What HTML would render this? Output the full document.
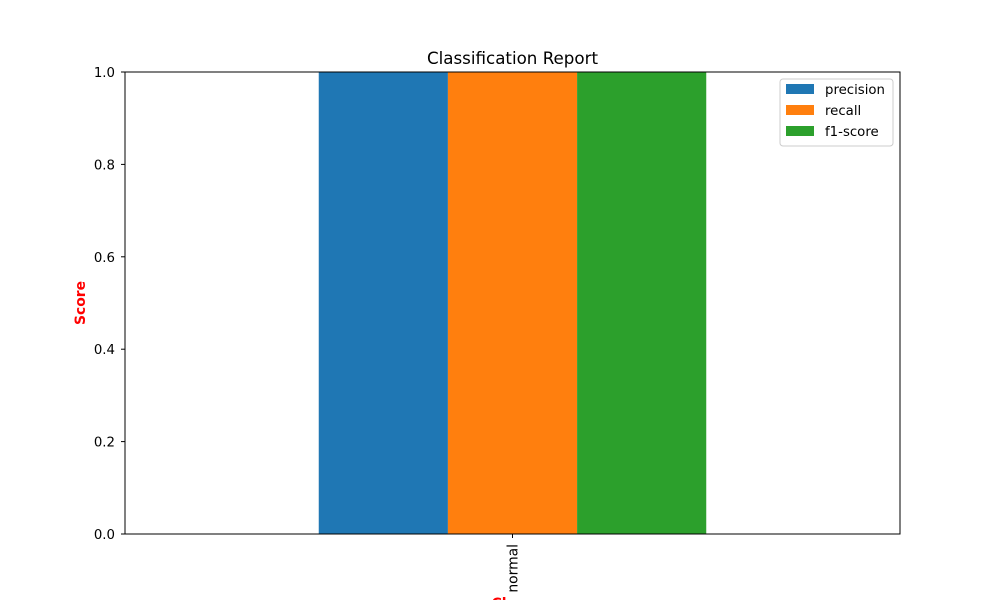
<!DOCTYPE html>
<html><head><meta charset="utf-8"><style>
body{margin:0;background:#fff;}
text{font-family:"DejaVu Sans","Liberation Sans",sans-serif;}
</style></head><body>
<svg width="1000" height="600" xmlns="http://www.w3.org/2000/svg">
<g id="plot"></g>
</svg>
<script>
const categories=["normal"];
const seriesNames=["precision","recall","f1-score"];
const precision=[1.0];
const recall=[1.0];
const f1=[1.0];
const yTicks=[0.0,0.2,0.4,0.6,0.8,1.0];
const colors=["#1f77b4","#ff7f0e","#2ca02c"];
const L=125,R=900,T=72,B=534;
const y=v=>B-(v/1.0)*(B-T);
const x=i=>L+(i+0.5)*(R-L)/categories.length;
const ns="http://www.w3.org/2000/svg";
const g=document.getElementById('plot');
function mk(tag,attrs,txt){const e=document.createElementNS(ns,tag);for(const k in attrs)e.setAttribute(k,attrs[k]);if(txt!==undefined)e.textContent=txt;g.appendChild(e);return e;}
const series=[precision,recall,f1];
const groupW=(R-L)/categories.length*0.5;
const bw=groupW/series.length;
categories.forEach((c,i)=>{
  series.forEach((s,j)=>{
    const x0=x(i)-groupW/2+j*bw;
    const r=mk('rect',{x:x0,y:y(s[i]),width:bw,height:B-y(s[i]),fill:colors[j]});
    
    
  });
  const t=mk('line',{x1:x(i),x2:x(i),y1:B,y2:B+4,stroke:'#000'});
  
  
  const tl=mk('text',{x:x(i)+5,y:B+10,'font-size':13.9,'text-anchor':'end',transform:`rotate(-90 ${x(i)+5} ${B+10})`},c);
  
  
});
yTicks.forEach(v=>{
  const t=mk('line',{x1:L-4,x2:L,y1:y(v),y2:y(v),stroke:'#000'});
  
  
  const tl=mk('text',{x:L-10,y:y(v)+5,'font-size':13.3,'text-anchor':'end'},v.toFixed(1));
  
  
});
const frame=mk('rect',{x:L,y:T,width:R-L,height:B-T,fill:'none',stroke:'#000','stroke-width':1});


const title=mk('text',{x:(L+R)/2,y:64,'font-size':16.7,'text-anchor':'middle'},'Classification Report');


const yt=mk('text',{x:85,y:303,'font-size':13.9,'font-weight':'bold',fill:'red','text-anchor':'middle',transform:'rotate(-90 85 303)'},'Score');


const xt=mk('text',{x:512,y:608,'font-size':13.9,'font-weight':'bold',fill:'red','text-anchor':'middle'},'Class');


// legend
const lg=mk('rect',{x:780,y:79,width:113,height:67,fill:'#fff',stroke:'#ccc',rx:3});


seriesNames.forEach((n,j)=>{
  const yy=84+j*21;
  const sw=mk('rect',{x:786,y:yy,width:28,height:10,fill:colors[j]});
  
  
  const lt=mk('text',{x:825,y:yy+10,'font-size':13.3},n);
  
  
});
</script>
</body></html>
